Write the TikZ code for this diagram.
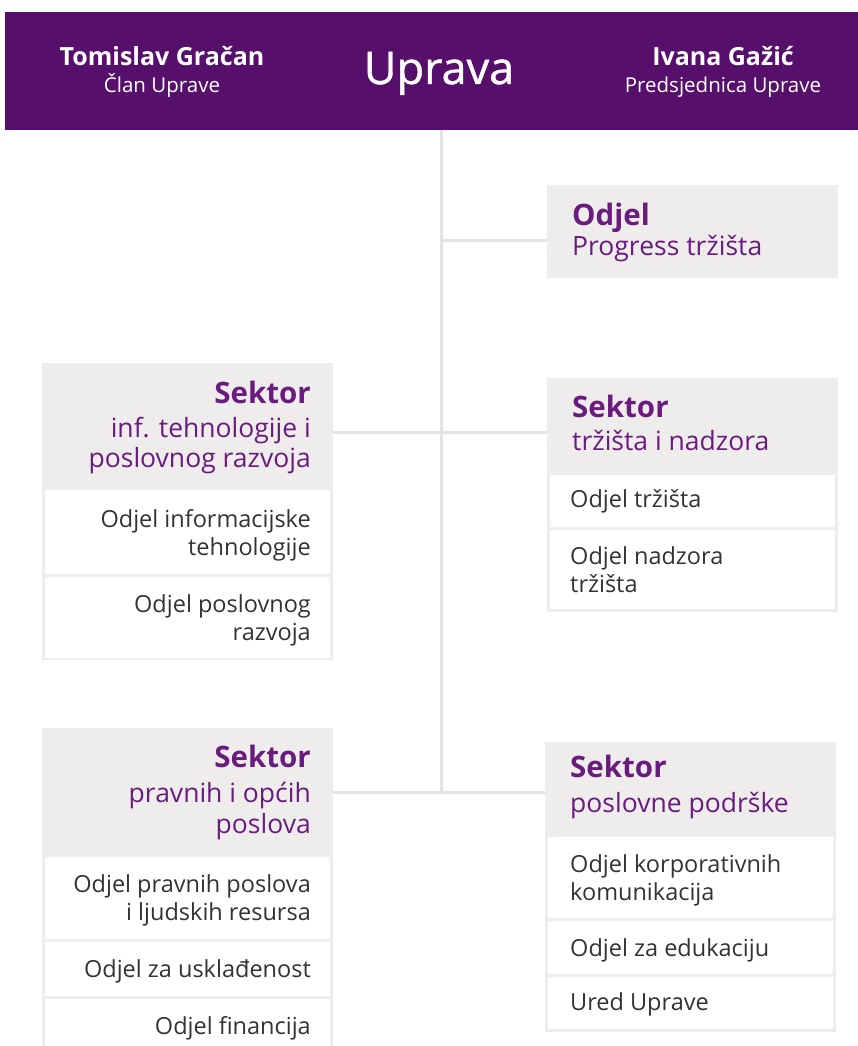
\documentclass[tikz,border=0pt]{standalone}
\usepackage{fontspec}
\setmainfont{Open Sans}
\definecolor{hdrpurple}{HTML}{570F6C}
\definecolor{titlepurple}{HTML}{6A1B7E}
\definecolor{boxgray}{HTML}{EFEDEC}
\definecolor{trunkgray}{HTML}{E6E4E3}
\definecolor{ink}{HTML}{333333}
\tikzset{
  x=1pt, y=-1pt,
  hdrbar/.style={fill=hdrpurple, draw=none, anchor=north west, inner sep=0pt},
  panel/.style={fill=boxgray, draw=none, anchor=north west, inner sep=0pt},
  cell/.style={fill=white, draw=none, anchor=north west, inner sep=0pt},
  personname/.style={text=white, inner sep=0pt, anchor=base, font=\fontsize{25}{28}\selectfont\bfseries},
  role/.style={text=white, inner sep=0pt, anchor=base, font=\fontsize{20.5}{22}\selectfont},
  bigtitle/.style={text=white, inner sep=0pt, anchor=base, font=\fontsize{45}{46}\selectfont\addfontfeature{FakeBold=1}},
  sektor/.style={text=titlepurple, inner sep=0pt, font=\fontsize{29.5}{32}\selectfont\bfseries},
  subtitle/.style={text=titlepurple, inner sep=0pt, font=\fontsize{26.5}{28}\selectfont},
  item/.style={text=ink, inner sep=0pt, font=\fontsize{23.5}{24}\selectfont},
  link/.style={draw=trunkgray, line width=3pt}
}
\begin{document}
\begin{tikzpicture}
\useasboundingbox (0,0) rectangle (858,1046);
\clip (0,0) rectangle (858,1046);

% top bar
\node[hdrbar, minimum width=853pt, minimum height=118pt] (hdr) at (5,12) {};
\node[personname] (n1) at (162,66) {Tomislav Gračan};
\node[role] (r1) at (162,93) {Član Uprave};
\node[bigtitle] (up) at (439,84) {Uprava};
\node[personname] (n2) at (723,66) {Ivana Gažić};
\node[role] (r2) at (723,93) {Predsjednica Uprave};

% trunk and branch points
\coordinate (t0) at (441,130);
\coordinate (j1) at (441,240);
\coordinate (j2) at (441,432);
\coordinate (j3) at (441,792);

% panels
\node[panel, minimum width=291pt, minimum height=93pt]  (prog) at (547,185) {};
\node[panel, minimum width=291pt, minimum height=297pt] (it)   at (42,363) {};
\node[panel, minimum width=291pt, minimum height=234pt] (trz)  at (547,378) {};
\node[panel, minimum width=291pt, minimum height=330pt] (prav) at (42,728) {};
\node[panel, minimum width=291pt, minimum height=290pt] (posl) at (545,742) {};

% connectors
\draw[link] (t0) -- (j3);
\draw[link] (j1) -- (j1 -| prog.west);
\draw[link] (j2 -| it.east) -- (j2 -| trz.west);
\draw[link] (j3 -| prav.east) -- (j3 -| posl.west);

% white cells
\node[cell, minimum width=285pt, minimum height=84pt] (it1) at (45,490) {};
\node[cell, minimum width=285pt, minimum height=81pt] (it2) at (45,577) {};
\node[cell, minimum width=285pt, minimum height=52pt] (trz1) at (550,475) {};
\node[cell, minimum width=285pt, minimum height=79pt] (trz2) at (550,530) {};
\node[cell, minimum width=285pt, minimum height=82pt] (prav1) at (45,857) {};
\node[cell, minimum width=285pt, minimum height=54pt] (prav2) at (45,942) {};
\node[cell, minimum width=285pt, minimum height=60pt] (prav3) at (45,999) {};
\node[cell, minimum width=285pt, minimum height=81pt] (posl1) at (548,837) {};
\node[cell, minimum width=285pt, minimum height=53pt] (posl2) at (548,921) {};
\node[cell, minimum width=285pt, minimum height=52pt] (posl3) at (548,977) {};

% Odjel Progress tržišta
\node[sektor, anchor=base west] (progT) at (572,225) {Odjel};
\node[subtitle, anchor=base west] (progS) at (572,255) {Progress tržišta};

% Sektor inf. tehnologije
\node[sektor, anchor=base east] (itT) at (311,403) {Sektor};
\node[subtitle, anchor=base east] (itS1) at (311,437) {inf. tehnologije i};
\node[subtitle, anchor=base east] (itS2) at (311,467) {poslovnog razvoja};
\node[item, anchor=base east] (it1a) at (311,527) {Odjel informacijske};
\node[item, anchor=base east] (it1b) at (311,555) {tehnologije};
\node[item, anchor=base east] (it2a) at (311,612) {Odjel poslovnog};
\node[item, anchor=base east] (it2b) at (311,640) {razvoja};

% Sektor tržišta i nadzora
\node[sektor, anchor=base west] (trzT) at (572,417) {Sektor};
\node[subtitle, anchor=base west] (trzS) at (572,450) {tržišta i nadzora};
\node[item, anchor=base west] (trz1a) at (570,507) {Odjel tržišta};
\node[item, anchor=base west] (trz2a) at (570,564) {Odjel nadzora};
\node[item, anchor=base west] (trz2b) at (570,592) {tržišta};

% Sektor pravnih i općih poslova
\node[sektor, anchor=base east] (pravT) at (311,767) {Sektor};
\node[subtitle, anchor=base east] (pravS1) at (311,802) {pravnih i općih};
\node[subtitle, anchor=base east] (pravS2) at (311,833) {poslova};
\node[item, anchor=base east] (prav1a) at (311,892) {Odjel pravnih poslova};
\node[item, anchor=base east] (prav1b) at (311,920) {i ljudskih resursa};
\node[item, anchor=base east] (prav2a) at (311,977) {Odjel za usklađenost};
\node[item, anchor=base east] (prav3a) at (311,1034) {Odjel financija};

% Sektor poslovne podrške
\node[sektor, anchor=base west] (poslT) at (570,777) {Sektor};
\node[subtitle, anchor=base west] (poslS) at (570,812) {poslovne podrške};
\node[item, anchor=base west] (posl1a) at (570,872) {Odjel korporativnih};
\node[item, anchor=base west] (posl1b) at (570,900) {komunikacija};
\node[item, anchor=base west] (posl2a) at (570,956) {Odjel za edukaciju};
\node[item, anchor=base west] (posl3a) at (570,1010) {Ured Uprave};
\end{tikzpicture}
\end{document}
